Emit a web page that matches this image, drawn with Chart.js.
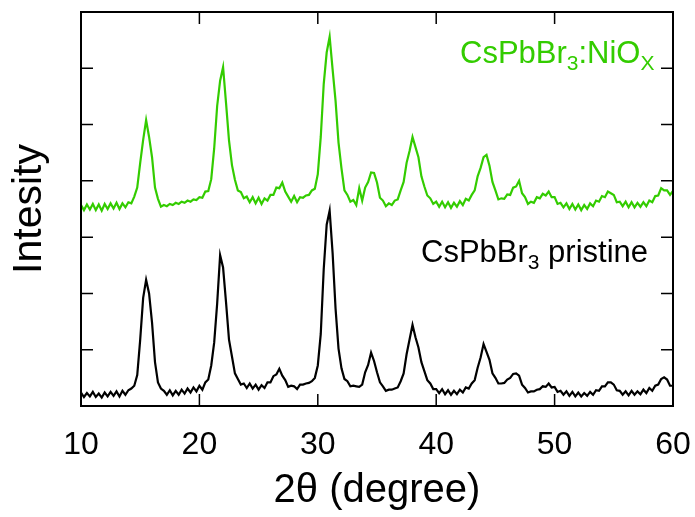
<!DOCTYPE html>
<html>
<head>
<meta charset="utf-8">
<script src="https://cdn.jsdelivr.net/npm/chart.js@4"></script>
<style>
  html, body { margin: 0; padding: 0; background: #fff; }
  #wrap { width: 695px; height: 517px; }
</style>
</head>
<body>
<div id="wrap"><canvas id="xrd"></canvas></div>
<script>
// 2theta grid, 0.25 degree steps from 10 to 60
const twoTheta = [];
for (let i = 0; i <= 200; i++) twoTheta.push(10 + i * 0.25);

// CsPbBr3 pristine (arbitrary units)
const pristine = [
  24, 16, 23, 17,  25, 16, 22, 15,  24, 17, 25, 18,  26, 17, 27, 20,       // 10-13.75
  28, 31, 36, 55,  118, 192, 224, 200,  148, 78, 42, 31,  27, 20, 28, 19,  // 14-17.75
  27, 20, 29, 22,  31, 24, 33, 26,  36, 29, 42, 47,  72, 113, 182, 268,    // 18-21.75
  246, 184, 118, 88,  58, 48, 38, 40,  32, 40, 31, 38,  29, 37, 32, 42,    // 22-25.75
  42, 53, 56, 66,  54, 46, 34, 36,  35, 30, 38, 38,  40, 41, 44, 50,       // 26-29.75
  72, 128, 243, 322,  347, 272, 173, 102,  67, 48, 44, 35,  36, 35, 34, 38, // 30-33.75
  60, 73, 95, 80,  60, 42, 35, 27,  29, 29, 31, 33,  44, 58, 92, 118,      // 34-37.75
  144, 122, 104, 78,  62, 46, 40, 30,  30, 23, 30, 21,  28, 20, 27, 21,    // 38-41.75
  29, 24, 33, 31,  40, 46, 68, 86,  110, 96, 82, 58,  50, 40, 40, 41,      // 42-45.75
  47, 50, 57, 58,  54, 38, 32, 24,  26, 26, 29, 30,  35, 34, 40, 33,       // 46-49.75
  34, 25, 27, 20,  26, 18, 25, 17,  24, 17, 23, 18,  25, 20, 28, 27,       // 50-53.75
  35, 35, 42, 42,  38, 28, 27, 20,  26, 19, 27, 20,  26, 21, 29, 23,       // 54-57.75
  32, 27, 36, 38,  48, 51, 47, 36,  36                                     // 58-60
];

// CsPbBr3:NiOx (arbitrary units, offset upward)
const niox = [
  357, 348, 358, 349,  359, 348, 358, 347,  359, 350, 360, 351,  361, 350, 360, 353, // 10-13.75
  362, 360, 372, 388,  432, 473, 508, 478,  442, 388, 368, 354,  357, 355, 359, 357, // 14-17.75
  361, 359, 363, 361,  365, 363, 367, 366,  371, 370, 381, 382,  403, 458, 533, 578, // 18-21.75
  602, 538, 472, 428,  402, 383, 380, 369,  372, 362, 371, 360,  370, 359, 369, 365, // 22-25.75
  375, 375, 388, 387,  397, 381, 372, 363,  373, 362, 371, 370,  374, 375, 383, 386, // 26-29.75
  412, 478, 572, 628,  656, 598, 542, 468,  422, 383, 375, 363,  366, 357, 387, 365, // 30-33.75
  388, 398, 415, 414,  397, 370, 365, 355,  360, 357, 365, 367,  383, 398, 432, 453, // 34-37.75
  478, 460, 442, 408,  390, 374, 369, 359,  363, 354, 363, 353,  362, 352, 361, 354, // 38-41.75
  364, 357, 368, 365,  375, 383, 408, 423,  442, 446, 427, 398,  383, 367, 369, 368, // 42-45.75
  376, 375, 388, 390,  400, 378, 371, 359,  363, 361, 371, 369,  377, 374, 381, 371, // 46-49.75
  371, 359, 361, 353,  360, 350, 359, 349,  358, 348, 357, 350,  360, 355, 365, 363, // 50-53.75
  373, 371, 381, 378,  375, 362, 363, 355,  363, 353, 362, 353,  361, 354, 362, 355, // 54-57.75
  365, 362, 373, 374,  387, 383, 383, 375,  382                                      // 58-60
];

const xTicks = [10, 20, 30, 40, 50, 60];
const yTicks = [100, 200, 300, 400, 500, 600];

const GREEN = '#33cc00';
const FONT = "'Liberation Sans', Arial, sans-serif";

Chart.defaults.color = '#000';
Chart.defaults.font.family = FONT;

// box around the plot with inward ticks, plus the two sample labels
const framePlugin = {
  id: 'frame',
  afterDatasetsDraw(chart) {
    const { ctx, chartArea: a, scales: { x, y } } = chart;
    ctx.save();
    ctx.strokeStyle = '#000';
    ctx.lineWidth = 1.5;
    const tl = 12;
    ctx.beginPath();
    xTicks.forEach(v => {
      const px = x.getPixelForValue(v);
      ctx.moveTo(px, a.bottom); ctx.lineTo(px, a.bottom - tl);
      ctx.moveTo(px, a.top); ctx.lineTo(px, a.top + tl);
    });
    yTicks.forEach(v => {
      const py = y.getPixelForValue(v);
      ctx.moveTo(a.left, py); ctx.lineTo(a.left + tl, py);
      ctx.moveTo(a.right, py); ctx.lineTo(a.right - tl, py);
    });
    ctx.stroke();
    ctx.lineWidth = 2;
    ctx.strokeRect(a.left, a.top, a.right - a.left, a.bottom - a.top);

    // sample labels with subscripts
    const drawLabel = (parts, px, py, color) => {
      ctx.fillStyle = color;
      ctx.textBaseline = 'alphabetic';
      let cx = px;
      parts.forEach(([txt, sub]) => {
        ctx.font = (sub ? '21px ' : '31px ') + FONT;
        ctx.fillText(txt, cx, sub ? py + 7 : py);
        cx += ctx.measureText(txt).width;
      });
    };
    drawLabel([['CsPbBr', 0], ['3', 1], [':NiO', 0], ['X', 1]], 460, 63, GREEN);
    drawLabel([['CsPbBr', 0], ['3', 1], [' pristine', 0]], 421, 262, '#000');
    ctx.restore();
  }
};

new Chart(document.getElementById('xrd'), {
  type: 'line',
  data: {
    labels: twoTheta,
    datasets: [
      {
        label: 'CsPbBr3:NiOx',
        data: twoTheta.map((t, i) => ({ x: t, y: niox[i] })),
        borderColor: GREEN,
        borderWidth: 2.2,
        pointRadius: 0,
        tension: 0
      },
      {
        label: 'CsPbBr3 pristine',
        data: twoTheta.map((t, i) => ({ x: t, y: pristine[i] })),
        borderColor: '#000',
        borderWidth: 2.2,
        pointRadius: 0,
        tension: 0
      }
    ]
  },
  options: {
    responsive: true,
    maintainAspectRatio: false,
    animation: false,
    layout: { padding: { top: 12, right: 22, left: 0, bottom: 0 } },
    plugins: { legend: { display: false }, tooltip: { enabled: false } },
    scales: {
      x: {
        type: 'linear',
        min: 10,
        max: 60,
        grid: { display: false, drawTicks: false },
        border: { display: false },
        ticks: { stepSize: 10, padding: 20, font: { size: 32 }, maxRotation: 0 },
        title: { display: true, text: '2θ (degree)', font: { size: 40 }, padding: { top: 0, bottom: 2 } },
        afterFit(scale) {
          scale.height = 111;
          scale.paddingLeft = 0;
          scale.paddingRight = 0;
        }
      },
      y: {
        min: 0,
        max: 700,
        grid: { display: false, drawTicks: false },
        border: { display: false },
        ticks: { display: false, stepSize: 100 },
        title: { display: true, text: 'Intesity', font: { size: 41 }, padding: { top: 5, bottom: 0 } },
        afterFit(scale) { scale.width = 81; }
      }
    }
  },
  plugins: [framePlugin]
});
</script>
</body>
</html>
